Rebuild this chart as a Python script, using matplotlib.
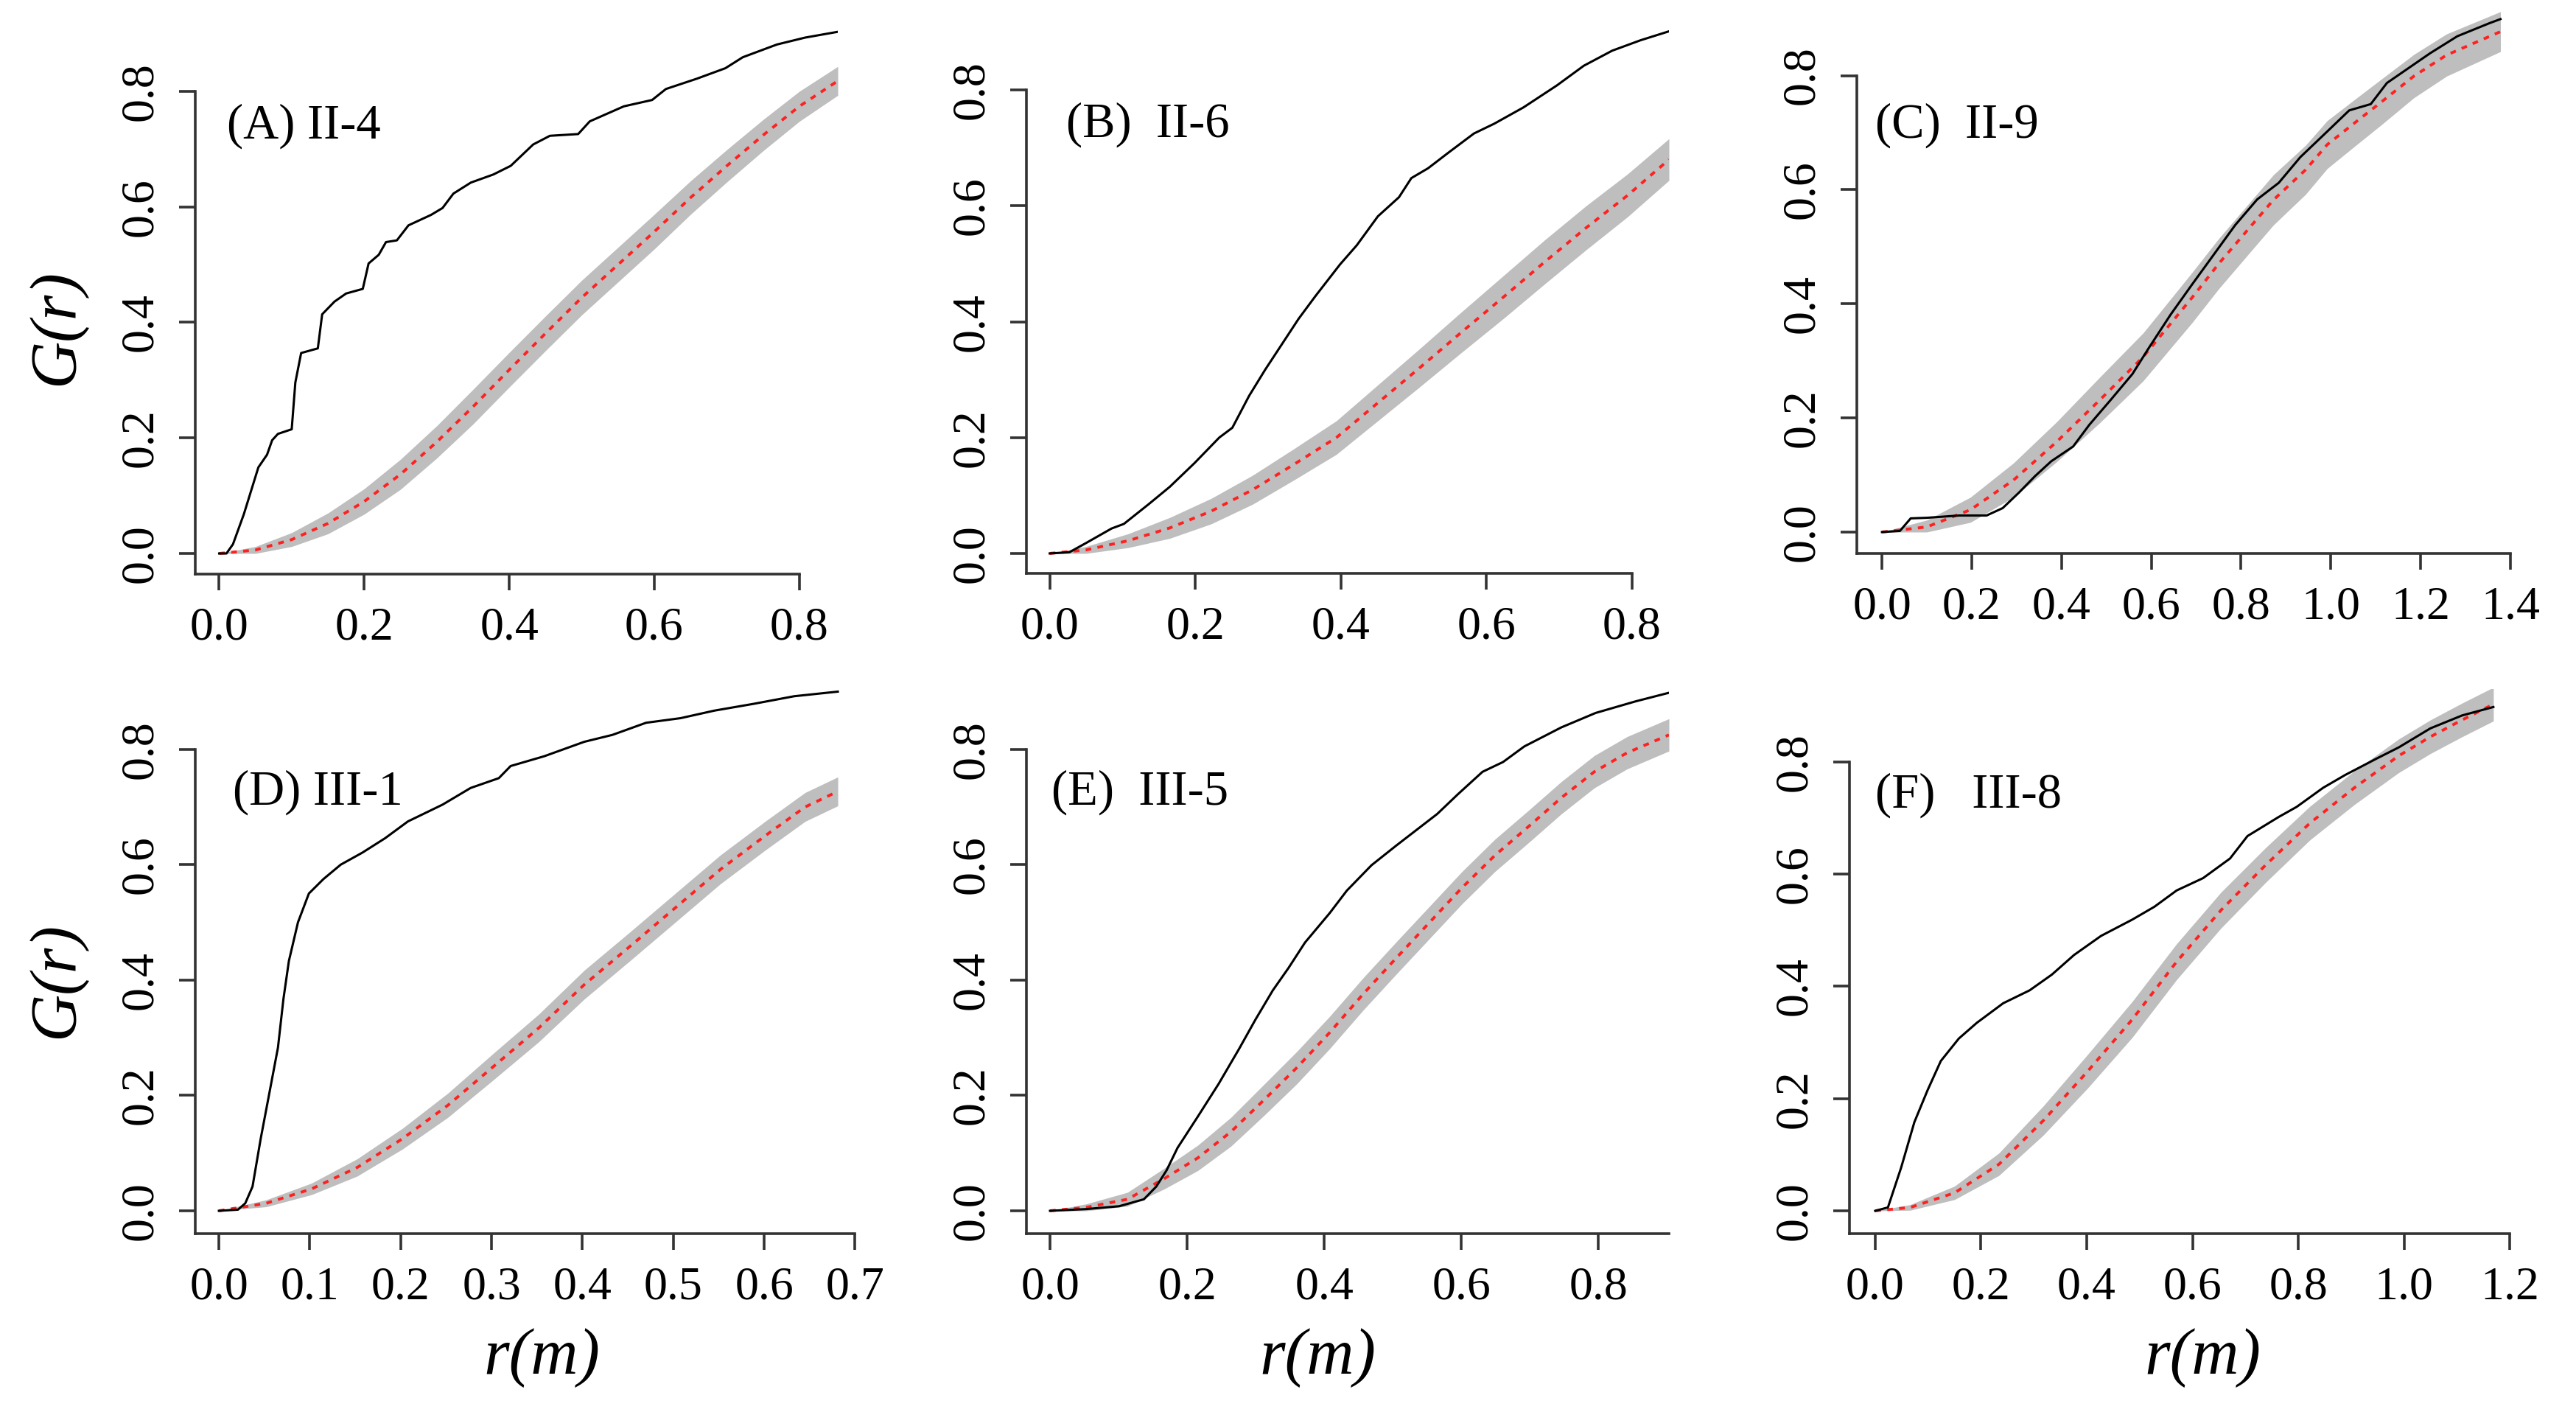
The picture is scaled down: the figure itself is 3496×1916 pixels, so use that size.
import matplotlib
matplotlib.use("Agg")
import matplotlib.pyplot as plt

a_obs_r = [0, 0.010, 0.019, 0.034, 0.054, 0.066, 0.073, 0.081, 0.100, 0.105, 0.113, 0.136, 0.142,
           0.159, 0.175, 0.198, 0.206, 0.220, 0.230, 0.245, 0.261, 0.292, 0.308, 0.323, 0.347,
           0.378, 0.402, 0.433, 0.456, 0.495, 0.511, 0.558, 0.597, 0.616, 0.659, 0.698, 0.722,
           0.769, 0.808, 0.853]
a_obs_g = [0, 0, 0.016, 0.068, 0.149, 0.171, 0.196, 0.207, 0.215, 0.296, 0.347, 0.355, 0.414,
           0.436, 0.450, 0.458, 0.502, 0.517, 0.539, 0.542, 0.568, 0.586, 0.598, 0.623, 0.642,
           0.656, 0.671, 0.708, 0.723, 0.726, 0.748, 0.774, 0.785, 0.804, 0.822, 0.840, 0.859,
           0.881, 0.893, 0.903]
a_env_r = [0, 0.05, 0.10, 0.15, 0.20, 0.25, 0.30, 0.35, 0.40, 0.45, 0.50, 0.55, 0.60, 0.65,
           0.70, 0.75, 0.80, 0.853]
a_theo = [0, 0.006, 0.024, 0.052, 0.090, 0.137, 0.193, 0.254, 0.318, 0.381, 0.443, 0.500,
          0.557, 0.616, 0.671, 0.724, 0.774, 0.818]
a_lo = [0, 0.000, 0.012, 0.034, 0.068, 0.111, 0.165, 0.224, 0.288, 0.351, 0.413, 0.470,
        0.527, 0.587, 0.643, 0.697, 0.748, 0.793]
a_hi = [0, 0.012, 0.036, 0.070, 0.112, 0.163, 0.221, 0.284, 0.348, 0.411, 0.473, 0.530,
        0.587, 0.645, 0.699, 0.751, 0.800, 0.843]

b_obs_r = [0, 0.027, 0.050, 0.085, 0.102, 0.136, 0.165, 0.199, 0.233, 0.251, 0.274, 0.296,
           0.319, 0.342, 0.365, 0.399, 0.422, 0.451, 0.480, 0.497, 0.520, 0.548, 0.583, 0.611,
           0.651, 0.697, 0.734, 0.773, 0.812, 0.850]
b_obs_g = [0, 0.002, 0.018, 0.043, 0.051, 0.085, 0.115, 0.156, 0.200, 0.217, 0.272, 0.317,
           0.361, 0.405, 0.444, 0.499, 0.532, 0.582, 0.615, 0.648, 0.665, 0.692, 0.725, 0.742,
           0.770, 0.808, 0.842, 0.868, 0.886, 0.901]
b_env_r = [0, 0.050, 0.108, 0.165, 0.222, 0.279, 0.336, 0.394, 0.451, 0.508, 0.565, 0.623,
           0.680, 0.737, 0.794, 0.851]
b_theo = [0, 0.006, 0.022, 0.044, 0.073, 0.110, 0.154, 0.200, 0.260, 0.320, 0.381, 0.442,
          0.503, 0.562, 0.618, 0.680]
b_lo = [0, 0.000, 0.010, 0.026, 0.051, 0.085, 0.127, 0.171, 0.229, 0.287, 0.346, 0.405,
        0.465, 0.524, 0.581, 0.644]
b_hi = [0, 0.012, 0.034, 0.062, 0.095, 0.135, 0.181, 0.229, 0.291, 0.353, 0.416, 0.479,
        0.541, 0.600, 0.655, 0.716]

c_obs_r = [0, 0.040, 0.064, 0.100, 0.172, 0.233, 0.269, 0.305, 0.341, 0.377, 0.426, 0.462,
           0.510, 0.558, 0.594, 0.643, 0.691, 0.739, 0.787, 0.836, 0.884, 0.932, 0.992, 1.041,
           1.089, 1.125, 1.173, 1.221, 1.282, 1.354, 1.378]
c_obs_g = [0, 0.002, 0.024, 0.025, 0.029, 0.029, 0.042, 0.069, 0.098, 0.124, 0.150, 0.188,
           0.232, 0.277, 0.322, 0.381, 0.434, 0.486, 0.538, 0.583, 0.612, 0.657, 0.702, 0.739,
           0.750, 0.787, 0.813, 0.839, 0.869, 0.892, 0.899]
c_env_r = [0, 0.100, 0.197, 0.293, 0.389, 0.486, 0.582, 0.691, 0.751, 0.824, 0.872, 0.944,
           0.992, 1.053, 1.113, 1.185, 1.258, 1.378]
c_theo = [0, 0.009, 0.039, 0.091, 0.158, 0.232, 0.307, 0.411, 0.471, 0.538, 0.582, 0.635,
          0.679, 0.717, 0.754, 0.799, 0.836, 0.877]
c_lo = [0, 0.000, 0.017, 0.061, 0.123, 0.192, 0.265, 0.367, 0.427, 0.494, 0.538, 0.592,
        0.637, 0.676, 0.714, 0.761, 0.799, 0.842]
c_hi = [0, 0.021, 0.061, 0.121, 0.193, 0.272, 0.349, 0.455, 0.515, 0.582, 0.626, 0.678,
        0.721, 0.758, 0.794, 0.837, 0.873, 0.912]

d_obs_r = [0, 0.021, 0.029, 0.037, 0.046, 0.056, 0.065, 0.071, 0.077, 0.087, 0.099, 0.115,
           0.134, 0.158, 0.183, 0.208, 0.246, 0.277, 0.308, 0.321, 0.358, 0.402, 0.433, 0.470,
           0.508, 0.545, 0.589, 0.633, 0.681]
d_obs_g = [0, 0.002, 0.013, 0.042, 0.125, 0.208, 0.283, 0.367, 0.433, 0.500, 0.550, 0.575,
           0.600, 0.621, 0.646, 0.675, 0.704, 0.733, 0.750, 0.771, 0.788, 0.813, 0.825, 0.846,
           0.854, 0.867, 0.879, 0.892, 0.900]
d_env_r = [0, 0.052, 0.102, 0.152, 0.202, 0.252, 0.302, 0.352, 0.402, 0.452, 0.502, 0.552,
           0.601, 0.645, 0.681]
d_theo = [0, 0.013, 0.038, 0.075, 0.125, 0.183, 0.250, 0.317, 0.392, 0.458, 0.525, 0.592,
          0.650, 0.700, 0.727]
d_lo = [0, 0.007, 0.028, 0.060, 0.107, 0.162, 0.227, 0.293, 0.367, 0.433, 0.500, 0.567,
        0.625, 0.675, 0.702]
d_hi = [0, 0.019, 0.048, 0.090, 0.143, 0.204, 0.273, 0.341, 0.417, 0.483, 0.550, 0.617,
        0.675, 0.725, 0.752]

e_obs_r = [0, 0.053, 0.101, 0.137, 0.155, 0.170, 0.186, 0.216, 0.246, 0.276, 0.300, 0.325,
           0.348, 0.372, 0.408, 0.433, 0.469, 0.505, 0.529, 0.565, 0.595, 0.631, 0.661, 0.692,
           0.746, 0.796, 0.854, 0.903]
e_obs_g = [0, 0.003, 0.008, 0.020, 0.042, 0.070, 0.109, 0.164, 0.220, 0.281, 0.332, 0.382,
           0.421, 0.465, 0.516, 0.555, 0.599, 0.633, 0.655, 0.688, 0.722, 0.761, 0.778, 0.805,
           0.838, 0.863, 0.883, 0.898]
e_env_r = [0, 0.053, 0.113, 0.167, 0.216, 0.264, 0.312, 0.360, 0.408, 0.457, 0.505, 0.553,
           0.601, 0.649, 0.698, 0.746, 0.794, 0.842, 0.903]
e_theo = [0, 0.006, 0.020, 0.056, 0.092, 0.137, 0.192, 0.248, 0.309, 0.376, 0.438, 0.499,
          0.560, 0.616, 0.666, 0.716, 0.761, 0.794, 0.825]
e_lo = [0, 0.000, 0.008, 0.038, 0.070, 0.112, 0.165, 0.220, 0.281, 0.348, 0.410, 0.471,
        0.532, 0.588, 0.638, 0.688, 0.733, 0.766, 0.797]
e_hi = [0, 0.012, 0.032, 0.074, 0.114, 0.162, 0.219, 0.276, 0.337, 0.404, 0.466, 0.527,
        0.588, 0.644, 0.694, 0.744, 0.789, 0.822, 0.853]

f_obs_r = [0, 0.024, 0.049, 0.074, 0.099, 0.124, 0.158, 0.192, 0.242, 0.292, 0.334, 0.376,
           0.427, 0.486, 0.528, 0.570, 0.620, 0.671, 0.704, 0.763, 0.797, 0.847, 0.889, 0.948,
           0.990, 1.050, 1.110, 1.169]
f_obs_g = [0, 0.006, 0.077, 0.158, 0.215, 0.267, 0.307, 0.335, 0.370, 0.393, 0.421, 0.456,
           0.490, 0.519, 0.542, 0.571, 0.593, 0.628, 0.668, 0.702, 0.720, 0.754, 0.777, 0.806,
           0.826, 0.860, 0.883, 0.898]
f_env_r = [0, 0.066, 0.150, 0.234, 0.318, 0.402, 0.486, 0.570, 0.654, 0.738, 0.822, 0.906,
           0.990, 1.050, 1.110, 1.169]
f_theo = [0, 0.006, 0.032, 0.083, 0.161, 0.249, 0.341, 0.444, 0.536, 0.616, 0.691, 0.754,
          0.811, 0.845, 0.875, 0.903]
f_lo = [0, 0.001, 0.020, 0.063, 0.135, 0.219, 0.309, 0.412, 0.504, 0.585, 0.661, 0.724,
        0.781, 0.815, 0.845, 0.873]
f_hi = [0, 0.011, 0.044, 0.103, 0.187, 0.279, 0.373, 0.476, 0.568, 0.647, 0.721, 0.784,
        0.841, 0.875, 0.905, 0.933]

panel_names = ["(A) II-4", "(B)  II-6", "(C)  II-9", "(D) III-1", "(E)  III-5", "(F)   III-8"]

# ---- layout (pixel boxes in the 3496x1916 canvas) ----
W, H, DPI = 3496, 1916, 200
plt.rcParams["font.family"] = ["Liberation Serif", "DejaVu Serif"]

fig = plt.figure(figsize=(W / DPI, H / DPI), dpi=DPI)

panels = [
    # data, box (left, right, top, bottom), xlim, ylim, last x tick, x-axis line end, label pos
    dict(obs=(a_obs_r, a_obs_g), env=(a_env_r, a_theo, a_lo, a_hi),
         box=(265, 1137, 22, 779), xlim=(-0.033, 0.853), ylim=(-0.0357, 0.93),
         xmax=0.8, step=0.2, xend=0.8, lab=(0.011, 0.74)),
    dict(obs=(b_obs_r, b_obs_g), env=(b_env_r, b_theo, b_lo, b_hi),
         box=(1393, 2265, 22, 778), xlim=(-0.032, 0.851), ylim=(-0.0344, 0.9275),
         xmax=0.8, step=0.2, xend=0.8, lab=(0.023, 0.74)),
    dict(obs=(c_obs_r, c_obs_g), env=(c_env_r, c_theo, c_lo, c_hi),
         box=(2520, 3441, 5, 751), xlim=(-0.056, 1.456), ylim=(-0.0375, 0.926),
         xmax=1.4, step=0.2, xend=1.4, lab=(-0.015, 0.713)),
    dict(obs=(d_obs_r, d_obs_g), env=(d_env_r, d_theo, d_lo, d_hi),
         box=(265, 1195, 915, 1674), xlim=(-0.026, 0.728), ylim=(-0.0396, 0.93),
         xmax=0.7, step=0.1, xend=0.7, lab=(0.015, 0.725)),
    dict(obs=(e_obs_r, e_obs_g), env=(e_env_r, e_theo, e_lo, e_hi),
         box=(1393, 2265, 915, 1674), xlim=(-0.0344, 0.903), ylim=(-0.0396, 0.93),
         xmax=0.8, step=0.2, xend=0.903, lab=(0.002, 0.725)),
    dict(obs=(f_obs_r, f_obs_g), env=(f_env_r, f_theo, f_lo, f_hi),
         box=(2510, 3442, 935, 1674), xlim=(-0.0487, 1.25), ylim=(-0.0407, 0.93),
         xmax=1.2, step=0.2, xend=1.2, lab=(0.0, 0.741)),
]

AXCOL = "#333333"
for name, p in zip(panel_names, panels):
    l, r, t, b = p["box"]
    ax = fig.add_axes([l / W, 1 - b / H, (r - l) / W, (b - t) / H])
    er, theo, lo, hi = p["env"]
    ax.fill_between(er, lo, hi, color="#bebebe", linewidth=0)
    ax.plot(er, theo, color="#ff2020", linestyle=(0, (2, 2.2)), linewidth=1.4)
    ax.plot(p["obs"][0], p["obs"][1], color="black", linewidth=1.1)

    ax.set_xlim(*p["xlim"])
    ax.set_ylim(*p["ylim"])
    n = int(round(p["xmax"] / p["step"]))
    xt = [i * p["step"] for i in range(n + 1)]
    ax.set_xticks(xt)
    ax.set_xticklabels([f"{v:.1f}" for v in xt])
    yt = [0, 0.2, 0.4, 0.6, 0.8]
    ax.set_yticks(yt)
    ax.set_yticklabels([f"{v:.1f}" for v in yt])

    for s in ("top", "right"):
        ax.spines[s].set_visible(False)
    for s in ("left", "bottom"):
        ax.spines[s].set_color(AXCOL)
        ax.spines[s].set_linewidth(1.3)
    ax.spines["left"].set_bounds(p["ylim"][0], 0.8)
    ax.spines["bottom"].set_bounds(p["xlim"][0], p["xend"])

    ax.tick_params(axis="both", length=8, width=1.3, color=AXCOL, labelsize=23, pad=8)
    ax.tick_params(axis="y", labelrotation=90)
    for lab in ax.get_yticklabels():
        lab.set_va("center")

    ax.text(p["lab"][0], p["lab"][1], name, fontsize=24, ha="left", va="center")

# axis titles
for y in (444, 1330):
    fig.text(77 / W, 1 - y / H, "G(r)", fontsize=32, style="italic",
             rotation=90, ha="center", va="center")
for x in (735, 1788, 2989):
    fig.text(x / W, 1 - 1843 / H, "r(m)", fontsize=32, style="italic",
             ha="center", va="center")

fig.savefig("out.png", dpi=DPI)
